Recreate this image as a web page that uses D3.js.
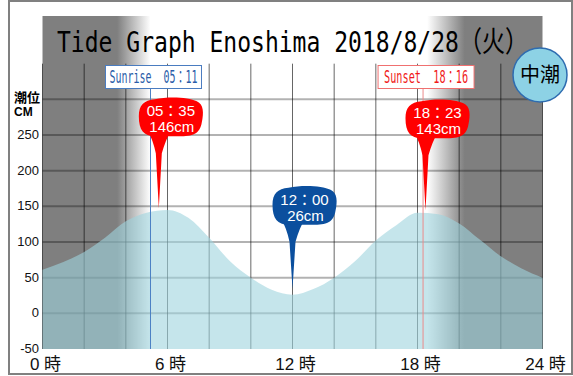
<!DOCTYPE html>
<html>
<head>
<meta charset="utf-8">
<script src="https://cdn.jsdelivr.net/npm/d3@7"></script>
<style>
  body { margin: 0; background: #fff; }
  svg { display: block; }
</style>
</head>
<body>
<div id="chart"></div>
<script>
(function tideGraph() {
// ---- data ----
const title = "Tide Graph Enoshima 2018/8/28（火）";
const hours = [0, 1, 2, 3, 4, 5, 6, 7, 8, 9, 10, 11, 12, 13, 14, 15, 16, 17, 18, 19, 20, 21, 22, 23, 24];
const tideCm = [61, 72, 86, 106, 129, 141, 145, 134, 106, 73, 50, 33, 26, 34, 50, 73, 102, 124, 141, 139, 126, 103, 80, 63, 50];
const eventTimes = ["05:35", "12:00", "18:23"];
const eventLevels = [146, 26, 143];
const eventTypes = ["high", "low", "high"];
const sunrise = "05:11";
const sunset = "18:16";
const yTicks = [-50, 0, 50, 100, 150, 200, 250];
const yGrid = [0, 50, 100, 150, 200, 250, 300];
const xGrid = [0, 2, 4, 6, 8, 10, 12, 14, 16, 18, 20, 22, 24];
const xLabels = [0, 6, 12, 18, 24];
const tideName = "中潮";

let width = 573, height = 376;
const jp = "'Noto Sans CJK JP', sans-serif";
const num = "'Liberation Sans', Arial, 'Noto Sans CJK JP', sans-serif";
const mono = "'DejaVu Sans Mono', 'Noto Sans CJK JP', monospace";

const toH = s => { let [h, m] = s.split(":").map(Number); return h + m / 60; };
const fmt = s => s.replace(":", "：");

const svg = d3.select("#chart")
  .append("svg")
  .attr("width", width)
  .attr("height", height);

let x = d3.scaleLinear().domain([0, 24]).range([42.5, 542.5]);
let y = d3.scaleLinear().domain([-50, 250]).range([349, 135]);

// frame
svg.append("rect")
  .attr("x", 9).attr("y", 1)
  .attr("width", 563).attr("height", 373)
  .attr("fill", "#fff")
  .attr("stroke", "#808080")
  .attr("stroke-width", 2);

// night shading
let riseH = toH(sunrise), setH = toH(sunset);
let grad = svg.append("defs").append("linearGradient")
  .attr("id", "night")
  .attr("gradientUnits", "userSpaceOnUse")
  .attr("x1", x(0)).attr("x2", x(24)).attr("y1", 0).attr("y2", 0);
const dark = "#7f7f7f";
let frac = h => (x(h) - x(0)) / (x(24) - x(0));
[[0, dark], [frac(riseH - 1.6), dark], [frac(riseH), "#fff"],
 [frac(setH + 0.2), "#fff"], [frac(setH + 2), dark], [1, dark]]
  .forEach(([o, c]) => grad.append("stop").attr("offset", o).attr("stop-color", c));

svg.append("rect")
  .attr("x", x(0)).attr("y", 16)
  .attr("width", x(24) - x(0)).attr("height", y(-50) - 16)
  .attr("fill", "url(#night)");

// grid
svg.append("g")
  .selectAll("line")
  .data(yGrid)
  .join("line")
  .attr("x1", x(0)).attr("x2", x(24))
  .attr("y1", d => y(d)).attr("y2", d => y(d))
  .attr("stroke", "rgba(0,0,0,0.3)")
  .attr("stroke-width", 2);

svg.append("g")
  .selectAll("line")
  .data(xGrid)
  .join("line")
  .attr("x1", d => x(d)).attr("x2", d => x(d))
  .attr("y1", y(350)).attr("y2", y(-50))
  .attr("stroke", "rgba(0,0,0,0.6)")
  .attr("stroke-width", 1);

// water
let tideData = hours.map((h, i) => ({ h: h, cm: tideCm[i] }));
let area = d3.area()
  .x(d => x(d.h))
  .y0(y(-50))
  .y1(d => y(d.cm))
  .curve(d3.curveMonotoneX);

svg.append("path")
  .datum(tideData)
  .attr("d", area)
  .attr("fill", "rgb(158,212,222)")
  .attr("fill-opacity", 0.6);

// y labels
svg.append("g")
  .selectAll("text")
  .data(yTicks)
  .join("text")
  .attr("x", 39)
  .attr("y", d => y(d) + 4)
  .attr("text-anchor", "end")
  .attr("font-family", num)
  .attr("font-size", 13)
  .attr("fill", "#111")
  .text(d => d);

svg.append("text")
  .attr("x", 14).attr("y", 102)
  .attr("font-family", jp).attr("font-size", 13).attr("font-weight", "bold")
  .text("潮位");
svg.append("text")
  .attr("x", 14).attr("y", 116)
  .attr("font-family", num).attr("font-size", 12).attr("font-weight", "bold")
  .text("CM");

// x labels
svg.append("g")
  .selectAll("text")
  .data(xLabels)
  .join("text")
  .attr("x", d => x(d) + 3)
  .attr("y", 370)
  .attr("text-anchor", "middle")
  .attr("font-family", num)
  .attr("font-size", 17)
  .attr("fill", "#111")
  .text(d => d + " 時");

// sunrise / sunset markers
let sun = [
  { label: "Sunrise\u00a0\u00a0" + fmt(sunrise), h: riseH, line: "#4a80c4", text: "#2a5ca8", box: "#4a7cc0", len: 88 },
  { label: "Sunset\u00a0\u00a0" + fmt(sunset), h: setH, line: "#ec8a8a", text: "#f01818", box: "#f07070", len: 84 }
];
let sg = svg.append("g")
  .selectAll("g")
  .data(sun)
  .join("g");

sg.append("line")
  .attr("x1", d => x(d.h)).attr("x2", d => x(d.h))
  .attr("y1", 88).attr("y2", y(-50))
  .attr("stroke", d => d.line)
  .attr("stroke-width", 1);

sg.append("rect")
  .attr("x", d => x(d.h) + 3 - 48).attr("y", 65.5)
  .attr("width", 96).attr("height", 23)
  .attr("fill", "#fff")
  .attr("stroke", d => d.box)
  .attr("stroke-width", 1);

sg.append("text")
  .attr("x", d => x(d.h) + 3)
  .attr("y", 83)
  .attr("text-anchor", "middle")
  .attr("font-family", mono)
  .attr("font-size", 17)
  .attr("textLength", d => d.len)
  .attr("lengthAdjust", "spacingAndGlyphs")
  .attr("fill", d => d.text)
  .text(d => d.label);

// balloons
const balloonStyle = {
  high: { fill: "#ff0000", top: -110, tipUp: 0 },
  low: { fill: "#0b4f9e", top: -102, tipUp: 5 }
};
let events = eventTimes.map((t, i) => ({ t: t, h: toH(t), cm: eventLevels[i], type: eventTypes[i] }));

let bg = svg.append("g")
  .selectAll("g")
  .data(events)
  .join("g")
  .attr("transform", d => `translate(${x(d.h)},${y(d.cm) - balloonStyle[d.type].tipUp})`);

bg.append("path")
  .attr("d", d => {
    let b = balloonStyle[d.type].top + 34;
    return `M-11,${b - 2} Q-6,${b + 6} -3,${b + 20} L0,-1 L3,${b + 20} Q7,${b + 6} 12,${b - 2} Z`;
  })
  .attr("fill", d => balloonStyle[d.type].fill);

bg.append("path")
  .attr("d", d => {
    let t = balloonStyle[d.type].top, b = t + 37;
    return `M-4,${t} C10,${t - 3} 30,${t - 2} 38,${t + 2} C45,${t + 5} 45,${t + 14} 43,${t + 23}
            C41,${b - 2} 34,${b} 20,${b} L-4,${b} C-15,${b} -20,${b - 6} -20,${t + 17}
            C-20,${t + 6} -15,${t + 1} -4,${t} Z`;
  })
  .attr("fill", d => balloonStyle[d.type].fill);

bg.append("text")
  .attr("x", 12)
  .attr("y", d => balloonStyle[d.type].top + 17)
  .attr("text-anchor", "middle")
  .attr("font-family", num)
  .attr("font-size", 15)
  .attr("fill", "#fff")
  .text(d => fmt(d.t));

bg.append("text")
  .attr("x", 13)
  .attr("y", d => balloonStyle[d.type].top + 33)
  .attr("text-anchor", "middle")
  .attr("font-family", num)
  .attr("font-size", 15)
  .attr("fill", "#fff")
  .text(d => d.cm + "cm");

// title
svg.append("text")
  .attr("x", 57)
  .attr("y", 52)
  .attr("font-family", mono)
  .attr("font-size", 29)
  .attr("textLength", 471)
  .attr("lengthAdjust", "spacingAndGlyphs")
  .attr("fill", "#000")
  .text(title);

// tide name badge
svg.append("circle")
  .attr("cx", 540).attr("cy", 75).attr("r", 27)
  .attr("fill", "#8dd2e5")
  .attr("stroke", "#2e6cb0")
  .attr("stroke-width", 1.5);
svg.append("text")
  .attr("x", 540).attr("y", 82)
  .attr("text-anchor", "middle")
  .attr("font-family", jp)
  .attr("font-size", 20)
  .attr("fill", "#000")
  .text(tideName);
})();
</script>
</body>
</html>
